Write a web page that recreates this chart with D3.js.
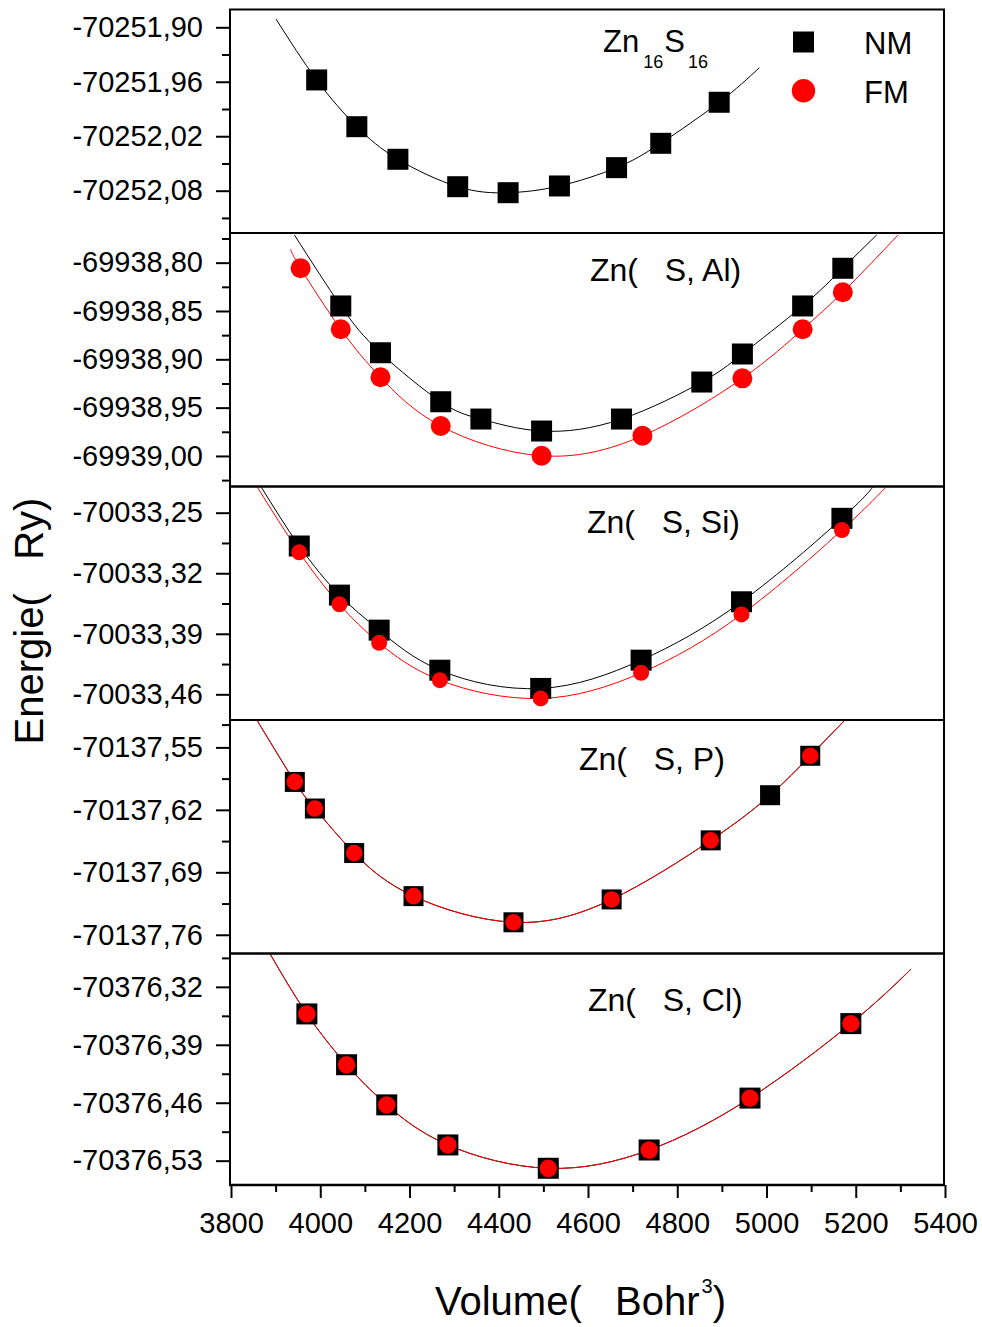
<!DOCTYPE html>
<html><head><meta charset="utf-8">
<script src="https://cdn.jsdelivr.net/npm/d3@7"></script>
<style>
body{margin:0;background:#fff}
text{font-family:"Liberation Sans",Arial,Helvetica,sans-serif;fill:#000;white-space:pre}
</style>
</head><body>
<svg id="chart" width="982" height="1327" xmlns="http://www.w3.org/2000/svg"></svg>
<script>
// ---------------- DATA ----------------
const volumeTicks = [3800,4000,4200,4400,4600,4800,5000,5200,5400];
const volumeMinor = [3900,4100,4300,4500,4700,4900,5100,5300];
const legendLabels = ["NM","FM"];

// Panel 1 : Zn16S16 (NM only)
const znsV    = [3992,4082,4174,4308,4421,4536,4664,4763,4894];
const znsNM   = [-70251.958,-70252.0095,-70252.0454,-70252.0756,-70252.0822,-70252.0748,-70252.0546,-70252.0278,-70251.9826];
const znsFitV = [3901,3992,4082,4174,4308,4421,4536,4664,4763,4894,4984];
const znsFitNM= [-70251.891,-70251.958,-70252.0095,-70252.0454,-70252.0756,-70252.0822,-70252.0748,-70252.0546,-70252.0278,-70251.9826,-70251.9445];
const znsTicks= [-70251.90,-70251.96,-70252.02,-70252.08];
const znsMinor= [-70251.93,-70251.99,-70252.05,-70252.11];
const znsRange= [-70252.1266,-70251.8804];

// Panel 2 : Zn(S, Al)
const alVNM   = [4046,4135,4270,4360,4496,4675,4855,4946,5081,5171];
const alNM    = [-69938.8448,-69938.8932,-69938.9439,-69938.9618,-69938.9742,-69938.9618,-69938.9235,-69938.8945,-69938.8448,-69938.8058];
const alVFM   = [3956,4046,4135,4270,4496,4722,4946,5081,5171];
const alFM    = [-69938.8058,-69938.8689,-69938.9186,-69938.9690,-69938.9998,-69938.9791,-69938.9197,-69938.8689,-69938.8306];
const alFitVNM= [3942,4046,4135,4270,4360,4496,4675,4855,4946,5081,5171,5247];
const alFitNM = [-69938.7713,-69938.8448,-69938.8932,-69938.9439,-69938.9618,-69938.9742,-69938.9618,-69938.9235,-69938.8945,-69938.8448,-69938.8058,-69938.7713];
const alFitVFM= [3934,3956,4046,4135,4270,4496,4722,4946,5081,5171,5295];
const alFitFM = [-69938.786,-69938.8058,-69938.8689,-69938.9186,-69938.9690,-69938.9998,-69938.9791,-69938.9197,-69938.8689,-69938.8306,-69938.7713];
const alTicks = [-69938.80,-69938.85,-69938.90,-69938.95,-69939.00];
const alMinor = [-69938.775,-69938.825,-69938.875,-69938.925,-69938.975,-69939.025];
const alRange = [-69939.0316,-69938.7693];

// Panel 3 : Zn(S, Si)
const siV     = [3953,4043,4132,4268,4494,4719,4944,5169];
const siNM    = [-70033.2885,-70033.3453,-70033.3858,-70033.4321,-70033.4532,-70033.4205,-70033.353,-70033.2565];
const siFM    = [-70033.2958,-70033.356,-70033.4005,-70033.4436,-70033.4648,-70033.4352,-70033.3676,-70033.27];
const siFitVNM= [3867,3953,4043,4132,4268,4494,4719,4944,5169,5239];
const siFitNM = [-70033.2197,-70033.2885,-70033.3453,-70033.3858,-70033.4321,-70033.4532,-70033.4205,-70033.353,-70033.2565,-70033.2197];
const siFitVFM= [3858,3953,4043,4132,4268,4494,4719,4944,5169,5269];
const siFitFM = [-70033.2197,-70033.2958,-70033.356,-70033.4005,-70033.4436,-70033.4648,-70033.4352,-70033.3676,-70033.27,-70033.2197];
const siTicks = [-70033.25,-70033.32,-70033.39,-70033.46];
const siMinor = [-70033.285,-70033.355,-70033.425,-70033.495];
const siRange = [-70033.4897,-70033.2197];

// Panel 4 : Zn(S, P)
const pVNM    = [3943,3988,4076,4209,4433,4653,4875,5008,5098];
const pNM     = [-70137.5887,-70137.6185,-70137.6684,-70137.7167,-70137.746,-70137.7204,-70137.6542,-70137.6036,-70137.5594];
const pVFM    = [3943,3988,4076,4209,4433,4653,4875,5098];
const pFM     = [-70137.5887,-70137.6185,-70137.6684,-70137.7167,-70137.746,-70137.7204,-70137.6542,-70137.5594];
const pFitV   = [3858,3943,3988,4076,4209,4433,4653,4875,5008,5098,5176];
const pFitNM  = [-70137.5193,-70137.5887,-70137.6185,-70137.6684,-70137.7167,-70137.746,-70137.7204,-70137.6542,-70137.6036,-70137.5594,-70137.5193];
const pFitFM  = [-70137.5193,-70137.5887,-70137.6185,-70137.6684,-70137.7167,-70137.746,-70137.7204,-70137.6542,-70137.6036,-70137.5594,-70137.5193];
const pTicks  = [-70137.55,-70137.62,-70137.69,-70137.76];
const pMinor  = [-70137.515,-70137.585,-70137.655,-70137.725];
const pRange  = [-70137.781,-70137.5193];

// Panel 5 : Zn(S, Cl)
const clV     = [3970,4059,4149,4286,4511,4737,4963,5189];
const clNM    = [-70376.3527,-70376.4141,-70376.4626,-70376.511,-70376.5392,-70376.5171,-70376.4544,-70376.3644];
const clFM    = [-70376.3527,-70376.4141,-70376.4626,-70376.511,-70376.5392,-70376.5171,-70376.4544,-70376.3644];
const clFitV  = [3886,3970,4059,4149,4286,4511,4737,4963,5189,5323];
const clFitNM = [-70376.2788,-70376.3527,-70376.4141,-70376.4626,-70376.511,-70376.5392,-70376.5171,-70376.4544,-70376.3644,-70376.299];
const clFitFM = [-70376.2788,-70376.3527,-70376.4141,-70376.4626,-70376.511,-70376.5392,-70376.5171,-70376.4544,-70376.3644,-70376.299];
const clTicks = [-70376.32,-70376.39,-70376.46,-70376.53];
const clMinor = [-70376.285,-70376.355,-70376.425,-70376.495];
const clRange = [-70376.5594,-70376.2797];

// ---------------- LAYOUT ----------------
const svg = d3.select("#chart");
const X0 = 231, X1 = 945;
const x = d3.scaleLinear().domain([3800,5400]).range([X0,X1]);
const FONT_TICK = 29;

const panels = [
  {top:9.5, bottom:233, range:znsRange, ticks:znsTicks, minor:znsMinor,
   nm:[znsV,znsNM], fm:null, fitNM:[znsFitV,znsFitNM], fitFM:null, r:10, sq:21,
   label:null, lx:603, ly:52},
  {top:233, bottom:486.5, range:alRange, ticks:alTicks, minor:alMinor,
   nm:[alVNM,alNM], fm:[alVFM,alFM], fitNM:[alFitVNM,alFitNM], fitFM:[alFitVFM,alFitFM], r:10, sq:21,
   label:"Zn(   S, Al)", lx:590, ly:281},
  {top:486.5, bottom:720, range:siRange, ticks:siTicks, minor:siMinor,
   nm:[siV,siNM], fm:[siV,siFM], fitNM:[siFitVNM,siFitNM], fitFM:[siFitVFM,siFitFM], r:8, sq:21,
   label:"Zn(   S, Si)", lx:587, ly:533},
  {top:720, bottom:953.5, range:pRange, ticks:pTicks, minor:pMinor,
   nm:[pVNM,pNM], fm:[pVFM,pFM], fitNM:[pFitV,pFitNM], fitFM:[pFitV,pFitFM], r:8.3, sq:20,
   label:"Zn(   S, P)", lx:579, ly:770},
  {top:953.5, bottom:1185, range:clRange, ticks:clTicks, minor:clMinor,
   nm:[clV,clNM], fm:[clV,clFM], fitNM:[clFitV,clFitNM], fitFM:[clFitV,clFitFM], r:8.7, sq:21,
   label:"Zn(   S, Cl)", lx:588, ly:1011}
];

const fmtTick = v => d3.format(".2f")(v).replace("\u2212","-").replace(".",",");
const zip = (a,b) => a.map((v,i)=>[v,b[i]]);

panels.forEach((p,i) => {
  const y = d3.scaleLinear().domain(p.range).range([p.bottom,p.top]);
  const g = svg.append("g");

  const clipId = "clip"+i;
  svg.append("clipPath").attr("id",clipId).append("rect")
    .attr("x",X0-1).attr("y",p.top).attr("width",X1-X0+1).attr("height",p.bottom-p.top);

  // fits
  const line = d3.line().x(d=>x(d[0])).y(d=>y(d[1])).curve(d3.curveNatural);
  const curves = g.append("g").attr("clip-path",`url(#${clipId})`);
  curves.append("path").datum(zip(p.fitNM[0],p.fitNM[1])).attr("d",line)
    .attr("fill","none").attr("stroke","#000").attr("stroke-width",1);
  if (p.fitFM) curves.append("path").datum(zip(p.fitFM[0],p.fitFM[1])).attr("d",line)
    .attr("fill","none").attr("stroke","#ff0000").attr("stroke-width",1);

  // markers
  g.append("g").selectAll("rect").data(zip(p.nm[0],p.nm[1])).join("rect")
    .attr("x",d=>x(d[0])-p.sq/2).attr("y",d=>y(d[1])-p.sq/2)
    .attr("width",p.sq).attr("height",p.sq).attr("fill","#000");
  if (p.fm) g.append("g").selectAll("circle").data(zip(p.fm[0],p.fm[1])).join("circle")
    .attr("cx",d=>x(d[0])).attr("cy",d=>y(d[1])).attr("r",p.r).attr("fill","#ff0000");

  // frame
  g.append("rect").attr("x",X0-1).attr("y",p.top).attr("width",X1-X0).attr("height",p.bottom-p.top)
    .attr("fill","none").attr("stroke","#000").attr("stroke-width",2);

  // y axis major
  const ya = g.append("g").attr("transform",`translate(${X0-1},0)`)
    .call(d3.axisLeft(y).tickValues(p.ticks).tickFormat(fmtTick).tickSize(14).tickPadding(13).tickSizeOuter(0));
  ya.select(".domain").remove();
  ya.selectAll("line").attr("stroke-width",2);
  ya.selectAll("text").attr("font-size",FONT_TICK).attr("font-family","Liberation Sans, Arial, sans-serif");
  // y axis minor
  const minorVals = p.minor.filter(v => { const py=y(v); return py>=p.top-1 && py<=p.bottom+6; });
  const ym = g.append("g").attr("transform",`translate(${X0-1},0)`)
    .call(d3.axisLeft(y).tickValues(minorVals).tickFormat("").tickSize(8).tickSizeOuter(0));
  ym.select(".domain").remove();
  ym.selectAll("line").attr("stroke-width",2);

  // label
  if (p.label) {
    g.append("text").attr("x",p.lx).attr("y",p.ly).attr("font-size",32)
      .attr("xml:space","preserve").text(p.label);
  }
});

// Panel 1 title with subscripts
const t1 = svg.append("text").attr("x",603).attr("y",52).attr("font-size",31);
t1.append("tspan").text("Zn");
t1.append("tspan").attr("font-size",18).attr("dx",4).attr("dy",16).text("16");
t1.append("tspan").attr("dx",1).attr("dy",-16).text("S");
t1.append("tspan").attr("font-size",18).attr("dx",3).attr("dy",16).text("16");

// Legend
svg.append("rect").attr("x",803.5-10.5).attr("y",42-10.5).attr("width",21).attr("height",21).attr("fill","#000");
svg.append("circle").attr("cx",803.5).attr("cy",90.7).attr("r",11.7).attr("fill","#ff0000");
svg.append("text").attr("x",864).attr("y",54).attr("font-size",31).text(legendLabels[0]);
svg.append("text").attr("x",864).attr("y",103).attr("font-size",31).text(legendLabels[1]);

// Bottom x axis
const bottom = panels[4].bottom;
const xa = svg.append("g").attr("transform",`translate(0,${bottom})`)
  .call(d3.axisBottom(x).tickValues(volumeTicks).tickFormat(d3.format("d")).tickSize(13).tickPadding(14).tickSizeOuter(0));
xa.select(".domain").remove();
xa.selectAll("line").attr("stroke-width",2);
xa.selectAll("text").attr("font-size",FONT_TICK).attr("font-family","Liberation Sans, Arial, sans-serif");
const xm = svg.append("g").attr("transform",`translate(0,${bottom})`)
  .call(d3.axisBottom(x).tickValues(volumeMinor).tickFormat("").tickSize(7).tickSizeOuter(0));
xm.select(".domain").remove();
xm.selectAll("line").attr("stroke-width",2);
svg.append("line").attr("x1",X0-2).attr("x2",X1).attr("y1",bottom).attr("y2",bottom)
  .attr("stroke","#000").attr("stroke-width",2.5);

// Axis titles
const xt = svg.append("text").attr("x",435).attr("y",1315).attr("font-size",40).attr("xml:space","preserve");
xt.append("tspan").text("Volume(   Bohr");
xt.append("tspan").attr("font-size",20).attr("dx",2).attr("dy",-22).text("3");
xt.append("tspan").attr("dy",22).text(")");

svg.append("text").attr("transform","translate(43,621) rotate(-90)").attr("text-anchor","middle")
  .attr("font-size",40).attr("xml:space","preserve").text("Energie(   Ry)");
</script>
</body></html>
